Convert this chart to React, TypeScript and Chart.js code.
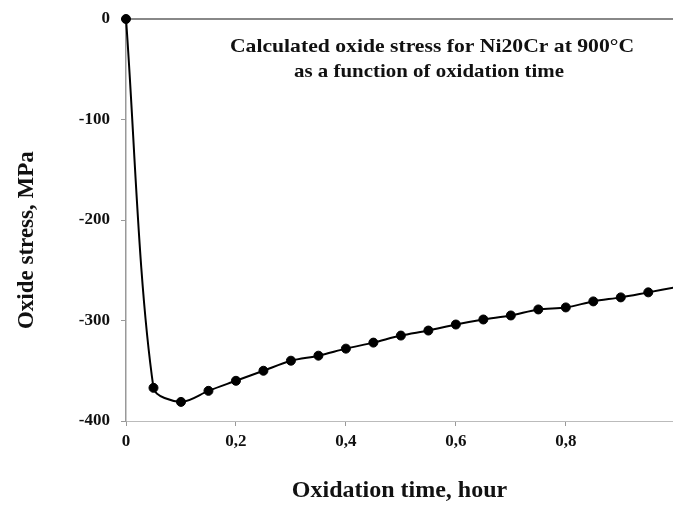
import React, { useEffect, useRef } from "react";
import { Chart, registerables } from "chart.js";

Chart.register(...registerables);

const timeHours = [0, 0.05, 0.1, 0.15, 0.2, 0.25, 0.3, 0.35, 0.4, 0.45, 0.5, 0.55, 0.6, 0.65, 0.7, 0.75, 0.8, 0.85, 0.9, 0.95, 1.0];
const stressMPa = [0, -367, -381, -370, -360, -350, -340, -335, -328, -322, -315, -310, -304, -299, -295, -289, -287, -281, -277, -272, -267];
const xTickValues = [0, 0.2, 0.4, 0.6, 0.8];
const annotationLines = ["Calculated oxide stress for Ni20Cr at 900°C", "as a function of oxidation time"];
const xTitle = "Oxidation time, hour";
const yTitle = "Oxide stress, MPa";

const SERIF = "'Liberation Serif', 'Times New Roman', serif";

export default function App() {
  const ref = useRef<HTMLCanvasElement | null>(null);

  useEffect(() => {
    const canvas = ref.current;
    if (!canvas) return;

    const annotationPlugin = {
      id: "annotationText",
      afterDraw(chart: any) {
        const ctx = chart.ctx as CanvasRenderingContext2D;
        ctx.save();
        ctx.font = `bold 19px ${SERIF}`;
        ctx.fillStyle = "#111";
        ctx.textAlign = "center";
        ctx.textBaseline = "middle";
        const centers = [
          { x: 432, y: 47, s: 1.14 },
          { x: 429, y: 72, s: 1.1 },
        ];
        annotationLines.forEach((line, i) => {
          ctx.save();
          ctx.translate(centers[i].x, centers[i].y);
          ctx.scale(centers[i].s, 1);
          ctx.fillText(line, 0, 0);
          ctx.restore();
        });
        ctx.restore();
      },
    };

    const chart = new Chart(canvas, {
      type: "line",
      data: {
        datasets: [
          {
            data: timeHours.map((t, i) => ({ x: t, y: stressMPa[i] })),
            borderColor: "#000",
            borderWidth: 2,
            backgroundColor: "#000",
            pointBackgroundColor: "#000",
            pointBorderColor: "#000",
            pointBorderWidth: 1,
            pointRadius: timeHours.map((t) => (t > 0.99 ? 0 : 4.5)),
            tension: 0.3,
            cubicInterpolationMode: "default",
            fill: false,
            clip: { left: 10, top: 10, right: 0, bottom: 10 } as any,
          },
        ],
      },
      options: {
        responsive: false,
        animation: false,
        layout: { autoPadding: false, padding: { top: 19, left: 0, right: 0, bottom: 0 } },
        plugins: {
          legend: { display: false },
          tooltip: { enabled: false },
          title: { display: false },
        },
        scales: {
          x: {
            type: "linear",
            min: 0,
            max: 0.995,
            afterBuildTicks: (scale: any) => {
              scale.ticks = xTickValues.map((v) => ({ value: v }));
            },
            afterFit: (scale: any) => {
              scale.height = 86;
              scale.paddingRight = 0;
              scale.paddingLeft = 0;
            },
            ticks: {
              autoSkip: false,
              maxRotation: 0,
              padding: 5,
              color: "#111",
              font: { family: SERIF, size: 17, weight: "bold" },
              callback: (v: any) => (Number(v) === 0 ? "0" : Number(v).toFixed(1).replace(".", ",")),
            },
            grid: {
              drawOnChartArea: false,
              drawTicks: true,
              tickLength: 5,
              tickColor: "#999",
              lineWidth: 1,
            },
            border: { display: true, color: "#bbb", width: 1, dash: [2, 3] },
            title: {
              display: true,
              text: xTitle,
              color: "#111",
              font: { family: SERIF, size: 24, weight: "bold" },
              padding: { top: 0, bottom: 2 },
            },
          },
          y: {
            type: "linear",
            min: -400,
            max: 0,
            afterFit: (scale: any) => {
              scale.width = 126;
              scale.paddingTop = 0;
              scale.paddingBottom = 0;
            },
            ticks: {
              stepSize: 100,
              padding: 11,
              color: "#111",
              font: { family: SERIF, size: 17, weight: "bold" },
              callback: (v: any) => String(v),
            },
            grid: {
              drawOnChartArea: true,
              drawTicks: true,
              tickLength: 5,
              tickColor: "#999",
              color: (c: any) => (c.tick && c.tick.value === 0 ? "#888" : "rgba(0,0,0,0)"),
              lineWidth: (c: any) => (c.tick && c.tick.value === 0 ? 2 : 1),
            },
            border: { display: true, color: "#999", width: 1.5 },
            title: {
              display: true,
              text: yTitle + "       ",
              color: "#111",
              font: { family: SERIF, size: 23, weight: "bold" },
              padding: { top: 13, bottom: 0 },
            },
          },
        },
      },
      plugins: [annotationPlugin],
    });

    return () => chart.destroy();
  }, []);

  return (
    <div style={{ position: "fixed", left: 0, top: 0, width: 673, height: 507, background: "#fff" }}>
      <canvas ref={ref} width={673} height={507} style={{ width: 673, height: 507, display: "block" }} />
    </div>
  );
}
